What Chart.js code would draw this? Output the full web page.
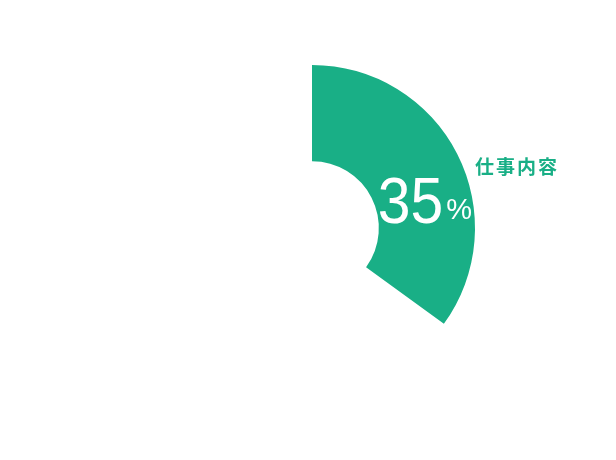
<!DOCTYPE html>
<html>
<head>
<meta charset="utf-8">
<script src="https://cdn.jsdelivr.net/npm/chart.js@4"></script>
<style>
  html, body { margin: 0; padding: 0; background: #fff; }
  #wrap { width: 616px; height: 460px; }
</style>
</head>
<body>
<div id="wrap"><canvas id="graficoRosca"></canvas></div>
<script>
const categorias = ['仕事内容', 'その他'];
const valores = [35, 65];
const cores = ['#19af86', 'rgba(255,255,255,0)'];

// rotulos desenhados sobre a fatia verde
const rotulosFatia = {
    id: 'rotulosFatia',
    afterDatasetsDraw(chart) {
        const ctx = chart.ctx;
        const arco = chart.getDatasetMeta(0).data[0];
        const cx = arco.x, cy = arco.y;

        ctx.save();
        ctx.fillStyle = '#ffffff';
        ctx.textBaseline = 'alphabetic';
        ctx.textAlign = 'left';
        const x0 = cx + arco.innerRadius - 1;
        ctx.save();
        ctx.translate(x0, cy - 5);
        ctx.scale(0.92, 1);
        ctx.font = '400 64px "Liberation Sans", Arial, sans-serif';
        const txt = String(valores[0]);
        ctx.fillText(txt, 0, 0);
        const w = ctx.measureText(txt).width * 0.92;
        ctx.restore();
        ctx.font = '400 29px "Liberation Sans", Arial, sans-serif';
        ctx.fillText('%', x0 + w + 3, cy - 9);

        ctx.fillStyle = cores[0];
        ctx.font = '700 19px "Noto Sans CJK JP", sans-serif';
        ctx.letterSpacing = '2px';
        ctx.textBaseline = 'middle';
        ctx.fillText(categorias[0], cx + arco.outerRadius, cy - 61);
        ctx.restore();
    }
};

new Chart(document.getElementById('graficoRosca').getContext('2d'), {
    type: 'doughnut',
    data: {
        labels: categorias,
        datasets: [{
            data: valores,
            backgroundColor: cores,
            borderWidth: 0,
            hoverOffset: 0
        }]
    },
    options: {
        responsive: true,
        maintainAspectRatio: false,
        animation: false,
        cutout: '41%',
        layout: { padding: { top: 65, bottom: 69, left: 8, right: 0 } },
        plugins: {
            legend: { display: false },
            tooltip: { enabled: false }
        }
    },
    plugins: [rotulosFatia]
});
</script>
</body>
</html>
